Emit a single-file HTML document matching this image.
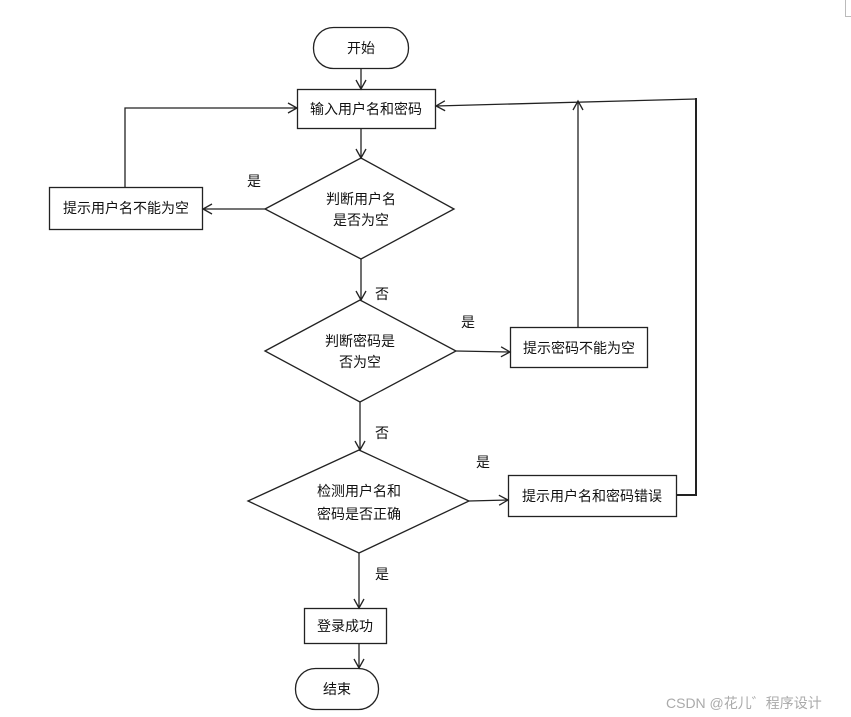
<!DOCTYPE html>
<html><head><meta charset="utf-8"><style>
html,body{margin:0;padding:0;background:#fff;}
svg{display:block;}
text{font-family:"Liberation Sans","Noto Sans CJK SC",sans-serif;font-size:14px;fill:#111;}
</style></head><body>
<svg width="851" height="717" viewBox="0 0 851 717" xmlns="http://www.w3.org/2000/svg">
<defs>
<marker id="a" markerWidth="12" markerHeight="12" refX="10" refY="6" orient="auto" markerUnits="userSpaceOnUse">
<path d="M1,1 L10,6 L1,11" fill="none" stroke="#222" stroke-width="1.3"/>
</marker>
</defs>
<g fill="none" stroke="#222" stroke-width="1.3">
<rect x="313.5" y="27.5" width="95" height="41" rx="20" ry="20"/>
<rect x="297.5" y="89.5" width="138" height="39"/>
<polygon points="265,209 361,158 454,209 361,259"/>
<rect x="49.5" y="187.5" width="153" height="42"/>
<polygon points="265,351 360,300 456,351 360,402"/>
<rect x="510.5" y="327.5" width="137" height="40"/>
<polygon points="248,501 359,450 469,501 359,553"/>
<rect x="508.5" y="475.5" width="168" height="41"/>
<rect x="304.5" y="608.5" width="82" height="35"/>
<rect x="295.5" y="668.5" width="83" height="41" rx="20" ry="20"/>
<line x1="361" y1="68" x2="361" y2="89" marker-end="url(#a)"/>
<line x1="361" y1="129" x2="361" y2="158" marker-end="url(#a)"/>
<line x1="265" y1="209" x2="203" y2="209" marker-end="url(#a)"/>
<polyline points="125,187 125,108 297,108" marker-end="url(#a)"/>
<line x1="361" y1="259" x2="361" y2="300" marker-end="url(#a)"/>
<line x1="456" y1="351" x2="510" y2="352" marker-end="url(#a)"/>
<line x1="578" y1="327" x2="578" y2="101" marker-end="url(#a)"/>
<line x1="696" y1="99" x2="436" y2="106" marker-end="url(#a)"/>
<line x1="360" y1="402" x2="360" y2="450" marker-end="url(#a)"/>
<line x1="469" y1="501" x2="508" y2="500" marker-end="url(#a)"/>
<polyline points="677,495 696,495 696,98" stroke-width="2"/>
<line x1="359" y1="553" x2="359" y2="608" marker-end="url(#a)"/>
<line x1="359" y1="644" x2="359" y2="668" marker-end="url(#a)"/>
</g>
<line x1="845.5" y1="0" x2="845.5" y2="16" stroke="#bbb" stroke-width="1"/>
<line x1="845" y1="16.5" x2="851" y2="16.5" stroke="#bbb" stroke-width="1"/>
<g text-anchor="middle">
<text x="361" y="53">开始</text>
<text x="366" y="114">输入用户名和密码</text>
<text x="361" y="204">判断用户名</text>
<text x="361" y="225">是否为空</text>
<text x="126" y="213">提示用户名不能为空</text>
<text x="360" y="346">判断密码是</text>
<text x="360" y="367">否为空</text>
<text x="579" y="353">提示密码不能为空</text>
<text x="359" y="496">检测用户名和</text>
<text x="359" y="519">密码是否正确</text>
<text x="592" y="501">提示用户名和密码错误</text>
<text x="345" y="631">登录成功</text>
<text x="337" y="694">结束</text>
<text x="254" y="186">是</text>
<text x="382" y="299">否</text>
<text x="468" y="327">是</text>
<text x="382" y="438">否</text>
<text x="483" y="467">是</text>
<text x="382" y="579">是</text>
</g>
<text x="666" y="708" style="fill:#aaa;font-size:14px">CSDN @花儿゛程序设计</text>
</svg>
</body></html>
